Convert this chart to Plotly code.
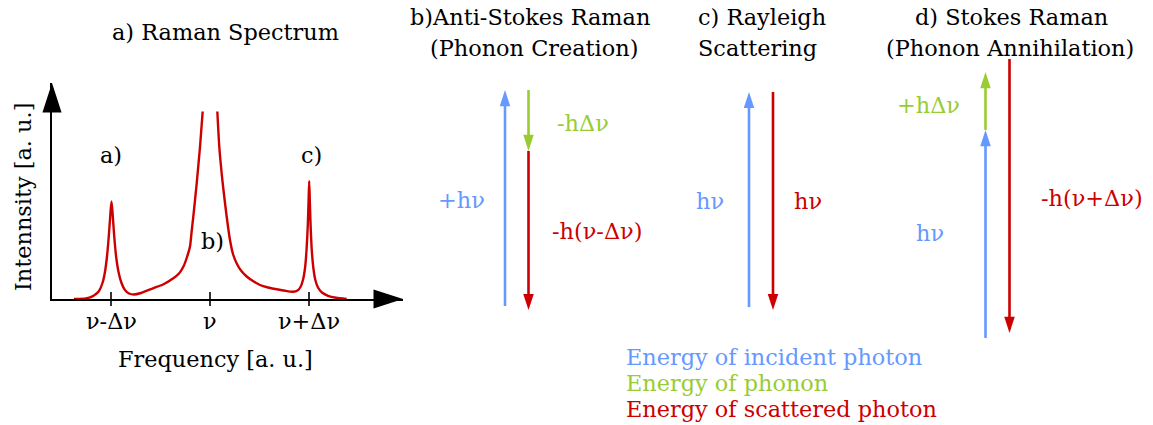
import plotly.graph_objects as go

OFF = 0
W, H = 1153, 425
FONT = "DejaVu Serif, Liberation Serif, Times New Roman, serif"
FS = 22.4

BLUE = "#6699ff"
GREEN = "#99cc33"
RED = "#cc0000"

# ---------------- spectrum data (frequency in units of Δν around ν, intensity a.u.)
freq = [-1.374, -1.253, -1.172, -1.121, -1.086, -1.061, -1.040, -1.020, -1.005, -0.995,
        -0.985, -0.970, -0.949, -0.924, -0.894, -0.859, -0.818, -0.768, -0.697, -0.576,
        -0.475, -0.374, -0.313, -0.268, -0.232, -0.202, -0.186, -0.169, -0.134, -0.101,
        -0.074, None,
        0.074, 0.094, 0.128, 0.169, 0.202, 0.232, 0.270, 0.313, 0.371, 0.434,
        0.505, 0.586, 0.674, 0.758, 0.838, 0.884, 0.914, 0.939, 0.960, 0.975,
        0.988, 0.996, 1.002, 1.008, 1.016, 1.028, 1.044, 1.064, 1.091, 1.131,
        1.192, 1.273, 1.381]
intensity = [0.0, 0.005, 0.035, 0.08, 0.16, 0.27, 0.43, 0.66, 0.87, 0.975,
             0.87, 0.66, 0.43, 0.27, 0.16, 0.09, 0.055, 0.045, 0.06, 0.107,
             0.145, 0.205, 0.255, 0.325, 0.42, 0.525, 0.67, 0.82, 1.16, 1.52,
             1.875, None,
             1.875, 1.52, 1.16, 0.82, 0.59, 0.45, 0.355, 0.285, 0.225, 0.18,
             0.14, 0.115, 0.097, 0.082, 0.072, 0.085, 0.12, 0.19, 0.31, 0.49,
             0.74, 0.99, 1.18, 0.99, 0.74, 0.49, 0.31, 0.19, 0.115, 0.065,
             0.032, 0.012, 0.0]

tick_vals = [-1, 0, 1]
tick_text = ["ν-Δν", "ν", "ν+Δν"]
peak_labels = ["a)", "b)", "c)"]

# ---------------- energy-level arrows (energy in units of hν)
arrow_kind = ["incident", "phonon", "scattered",
              "incident", "scattered",
              "incident", "phonon", "scattered"]
arrow_start = [0.000, 1.000, 0.718, -0.005, 0.991, -0.148, 0.815, 1.144]
arrow_end = [1.000, 0.718, -0.019, 0.991, -0.019, 0.815, 1.083, -0.125]

legend_text = ["Energy of incident photon", "Energy of phonon", "Energy of scattered photon"]
kind_color = {"incident": BLUE, "phonon": GREEN, "scattered": RED}

# ---------------- layout constants (pixels in the reference window)
arrow_x_px = [505, 528.5, 528.5, 749, 773, 985.5, 985.5, 1009.5]
X0_PX, X1_PX = 52, 403          # spectrum x axis extent
Y0_PX, Y1_PX = 299, 83          # spectrum y axis extent
PX_PER_DNU = 99
NU_PX = 210
PX_PER_I = 100
E0_PX, PX_PER_E = 306, 216      # energy axis mapping


def fx(px):
    return (px - OFF) / W


def fy(py):
    return 1 - (py - OFF) / H


x_range = [(X0_PX - NU_PX) / PX_PER_DNU, (X1_PX - NU_PX) / PX_PER_DNU]
y_range = [0, (Y0_PX - Y1_PX) / PX_PER_I]
e_range = [(E0_PX - (H + OFF)) / PX_PER_E, (E0_PX - OFF) / PX_PER_E]

fig = go.Figure()

# spectrum curve
fig.add_trace(go.Scatter(x=freq, y=intensity, mode="lines",
                         line=dict(color=RED, width=2.4, shape="spline", smoothing=0.6),
                         connectgaps=False, cliponaxis=False, hoverinfo="skip",
                         xaxis="x", yaxis="y"))
# tick marks crossing the axis
fig.add_trace(go.Scatter(x=tick_vals, y=[0] * len(tick_vals), mode="markers",
                         marker=dict(symbol="line-ns", size=10, line=dict(color="black", width=1.6)),
                         cliponaxis=False, hoverinfo="skip", xaxis="x", yaxis="y"))
# axis arrowheads
fig.add_trace(go.Scatter(x=[x_range[1], x_range[0]], y=[0, y_range[1]], mode="markers",
                         marker=dict(symbol="arrow", size=31, angle=[90, 0], color="black",
                                     line=dict(width=0)),
                         cliponaxis=False, hoverinfo="skip", xaxis="x", yaxis="y"))

# energy arrows
backoff = 6 / PX_PER_E
for k, s, e, xp in zip(arrow_kind, arrow_start, arrow_end, arrow_x_px):
    c = kind_color[k]
    d = 1 if e > s else -1
    fig.add_trace(go.Scatter(x=[xp - OFF, xp - OFF], y=[s, e - d * backoff], mode="lines",
                             line=dict(color=c, width=2.6), hoverinfo="skip",
                             cliponaxis=False, xaxis="x2", yaxis="y2"))
    fig.add_trace(go.Scatter(x=[xp - OFF], y=[e], mode="markers",
                             marker=dict(symbol="arrow", size=17, angle=0 if d > 0 else 180,
                                         color=c, line=dict(width=0)),
                             hoverinfo="skip", cliponaxis=False, xaxis="x2", yaxis="y2"))

ann = []


def txt(text, px, base, color="black", size=FS, xanchor="center", angle=0):
    ann.append(dict(text=text, x=fx(px), y=fy(base - 0.33 * size), xref="paper", yref="paper",
                    xanchor=xanchor, yanchor="middle", showarrow=False, textangle=angle,
                    font=dict(family=FONT, size=size, color=color)))


# titles
txt("a) Raman Spectrum", 225.5, 39)
txt("b)Anti-Stokes Raman", 530, 24)
txt("(Phonon Creation)", 534, 55)
txt("c) Rayleigh", 696, 24, xanchor="left")
txt("Scattering", 696, 55, xanchor="left")
txt("d) Stokes Raman", 1011, 24)
txt("(Phonon Annihilation)", 1010, 55)

# spectrum labels
for lab, xp, base in zip(peak_labels, [111, 212, 311], [162, 248, 162]):
    txt(lab, xp, base)
for tv, tt in zip(tick_vals, tick_text):
    txt(tt, NU_PX + tv * PX_PER_DNU, 328)
txt("Frequency [a. u.]", 216, 366)
ann.append(dict(text="Intennsity [a. u.]", x=fx(23), y=fy(197), xref="paper", yref="paper",
                xanchor="center", yanchor="middle", showarrow=False, textangle=-90,
                font=dict(family=FONT, size=FS, color="black")))

# arrow labels
txt("-hΔν", 583, 130, GREEN)
txt("+hν", 461, 207, BLUE)
txt("-h(ν-Δν)", 597, 238, RED)
txt("hν", 710, 208, BLUE)
txt("hν", 808, 208, RED)
txt("+hΔν", 928, 112, GREEN)
txt("hν", 930, 240, BLUE)
txt("-h(ν+Δν)", 1092, 205, RED)

# legend
for t, k, base in zip(legend_text, ["incident", "phonon", "scattered"], [364, 390, 416]):
    txt(t, 624, base, kind_color[k], xanchor="left")

fig.update_layout(
    width=W, height=H, margin=dict(l=0, r=0, t=0, b=0),
    paper_bgcolor="white", plot_bgcolor="rgba(0,0,0,0)",
    showlegend=False, annotations=ann,
    xaxis=dict(domain=[fx(X0_PX), fx(X1_PX)], range=x_range, showgrid=False, zeroline=False,
               showline=True, linecolor="black", linewidth=1.6, showticklabels=False,
               ticks="", anchor="y", fixedrange=True),
    yaxis=dict(domain=[fy(Y0_PX), fy(Y1_PX)], range=y_range, showgrid=False,
               zeroline=False, showline=True, linecolor="black", linewidth=1.6,
               showticklabels=False, ticks="", anchor="x", fixedrange=True),
    xaxis2=dict(domain=[0, 1], range=[0, W], visible=False, anchor="y2", fixedrange=True),
    yaxis2=dict(domain=[0, 1], range=e_range, visible=False, anchor="x2", fixedrange=True),
)

fig.write_html("out.html", config={"displayModeBar": False},
               post_script="document.body.style.margin='0px';")
